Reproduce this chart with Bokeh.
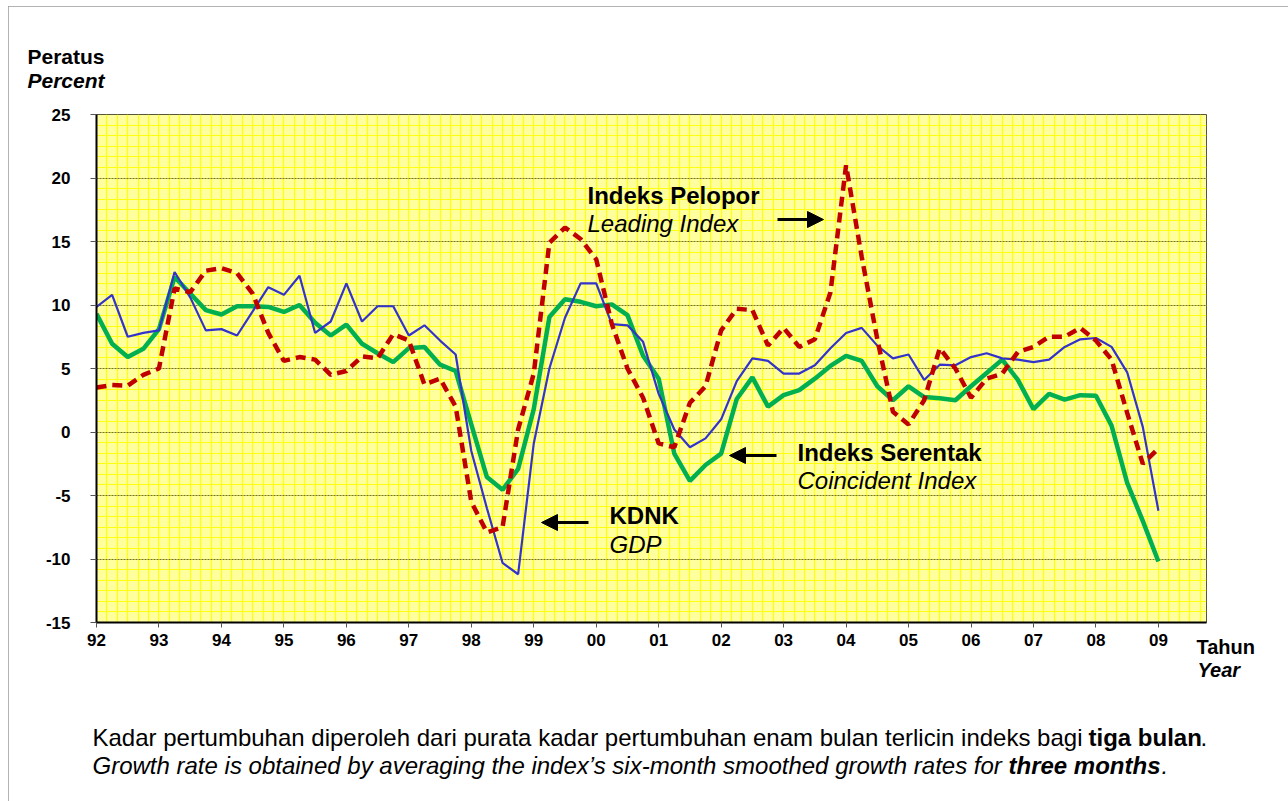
import numpy as np
from bokeh.plotting import figure
from bokeh.layouts import column, row
from bokeh.models import (Label, Arrow, NormalHead, FixedTicker, SingleIntervalTicker,
                          Range1d, ColumnDataSource)
from bokeh.embed import file_html
from bokeh.resources import INLINE

# ---------------- data (quarterly, 1992Q1 .. 2009Q1) ----------------
year_labels = ["92", "93", "94", "95", "96", "97", "98", "99", "00",
               "01", "02", "03", "04", "05", "06", "07", "08", "09"]

gdp = [9.85, 10.8, 7.5, 7.8, 8.0, 12.6, 10.6, 8.0, 8.1, 7.6, 9.5, 11.4,
       10.8, 12.3, 7.8, 8.7, 11.7, 8.7, 9.9, 9.9, 7.6, 8.4, 7.2, 6.1,
       -1.5, -6.0, -10.3, -11.2, -0.9, 5.0, 9.0, 11.7, 11.7, 8.5, 8.4, 7.1,
       3.0, 0.2, -1.2, -0.5, 1.0, 4.0, 5.8, 5.6, 4.6, 4.6, 5.25, 6.6,
       7.8, 8.2, 6.8, 5.8, 6.1, 4.1, 5.3, 5.25, 5.9, 6.2, 5.8, 5.7,
       5.5, 5.7, 6.7, 7.3, 7.4, 6.7, 4.7, 0.4, -6.2]

coincident = [9.3, 6.95, 5.9, 6.55, 8.1, 12.2, 10.9, 9.6, 9.25, 9.9, 9.9, 9.85,
              9.45, 10.0, 8.6, 7.6, 8.45, 6.95, 6.2, 5.5, 6.6, 6.7, 5.3, 4.8,
              0.6, -3.55, -4.55, -2.9, 1.8, 9.05, 10.45, 10.25, 9.9, 10.05, 9.2, 6.0,
              4.2, -1.7, -3.85, -2.6, -1.7, 2.6, 4.3, 2.0, 2.9, 3.3, 4.2, 5.2,
              6.0, 5.6, 3.6, 2.5, 3.6, 2.75, 2.65, 2.5, 3.6, 4.65, 5.7, 4.1,
              1.8, 3.0, 2.55, 2.9, 2.85, 0.5, -4.0, -7.0, -10.2]

leading = [3.5, 3.7, 3.65, 4.5, 5.0, 11.3, 11.0, 12.7, 12.9, 12.5, 10.9, 7.8,
           5.6, 5.9, 5.7, 4.5, 4.8, 5.95, 5.8, 7.7, 7.2, 3.75, 4.2, 2.0,
           -5.5, -7.9, -7.5, 0.2, 4.6, 14.9, 16.1, 15.2, 13.6, 8.5, 5.0, 2.7,
           -0.9, -1.2, 2.3, 3.6, 8.0, 9.7, 9.6, 6.8, 8.2, 6.7, 7.3, 11.0,
           21.0, 13.8, 7.3, 1.6, 0.6, 2.5, 6.6, 5.0, 2.7, 4.2, 4.6, 6.3,
           6.7, 7.5, 7.5, 8.2, 7.2, 5.7, 1.5, -2.5, -1.3]

first_year = 1992
quarter_x = [first_year + i / 4 for i in range(len(gdp))]
year_ticks = [first_year + k for k in range(len(year_labels))]

src = ColumnDataSource(dict(x=quarter_x, gdp=gdp, coin=coincident, lead=leading))

# ---------------- main figure ----------------
OX, OY = 8, 6          # page offset of the figure
W, H = 1280, 795
FONT = "Liberation Sans"

p = figure(width=W, height=H, output_backend="svg", toolbar_location=None,
           x_range=Range1d(1992, 2009.77), y_range=Range1d(-15, 25),
           min_border_left=88, min_border_right=82, min_border_top=108,
           min_border_bottom=179)

p.background_fill_color = "#FFFF9E"
p.border_fill_color = "white"
p.outline_line_color = "#55553a"
p.outline_line_width = 1

xt = FixedTicker(ticks=year_ticks, minor_ticks=list(np.arange(1992, 2009.8, 1 / 6)))
yt = SingleIntervalTicker(interval=5, num_minor_ticks=6)
p.xaxis.ticker = xt
p.yaxis.ticker = yt
p.xgrid.ticker = xt
p.ygrid.ticker = yt

p.xgrid.grid_line_color = None
p.xgrid.minor_grid_line_color = "#FFFF10"
p.xgrid.minor_grid_line_width = 1.2
p.ygrid.grid_line_color = "#6e6e55"
p.ygrid.grid_line_dash = "2 1"
p.ygrid.grid_line_width = 1
p.ygrid.minor_grid_line_color = "#FFFF10"
p.ygrid.minor_grid_line_width = 1.2

p.xaxis.major_label_overrides = {t: lab for t, lab in zip(year_ticks, year_labels)}
p.yaxis.major_label_overrides = {v: str(v) for v in range(-15, 30, 5)}
for ax in (p.xaxis, p.yaxis):
    ax.axis_line_color = "black"
    ax.axis_line_width = 2
    ax.minor_tick_line_color = None
    ax.major_tick_in = 0
    ax.major_tick_line_color = "#555555"
    ax.major_label_text_font = FONT
    ax.major_label_text_font_style = "bold"
    ax.major_label_text_font_size = "17px"
    ax.major_label_text_color = "black"
p.xaxis.major_tick_out = 5
p.xaxis.major_label_standoff = 6
p.yaxis.major_tick_out = 6
p.yaxis.major_label_standoff = 20

p.line("x", "coin", source=src, line_color="#00B050", line_width=4.5)
p.line("x", "gdp", source=src, line_color="#3333CC", line_width=2.2)
p.line("x", "lead", source=src, line_color="#C00000", line_width=4.5,
       line_dash="10 6")

FRAME_L, FRAME_B = 96, 622   # page pixel position of the frame's left/bottom


def add_in(txt, X, Y, size, style):
    p.add_layout(Label(x=X - FRAME_L, y=FRAME_B - Y, x_units="screen", y_units="screen",
                       text=txt, text_font=FONT, text_font_size=size,
                       text_font_style=style, text_color="black",
                       text_baseline="middle", text_align="left"))


add_in("Indeks Pelopor", 587, 195, "24px", "bold")
add_in("Leading Index", 587, 223, "24px", "italic")
add_in("Indeks Serentak", 797, 452, "24px", "bold")
add_in("Coincident Index", 797, 480, "24px", "italic")
add_in("KDNK", 609, 515, "24px", "bold")
add_in("GDP", 609, 544, "24px", "italic")


def add_arrow(X0, Y0, X1, Y1):
    p.add_layout(Arrow(end=NormalHead(size=16, fill_color="black", line_color="black"),
                       x_start=X0 - FRAME_L, y_start=FRAME_B - Y0,
                       x_end=X1 - FRAME_L, y_end=FRAME_B - Y1,
                       start_units="screen", end_units="screen",
                       line_color="black", line_width=3))


add_arrow(777, 219, 823, 219)
add_arrow(776, 455, 729, 455)
add_arrow(588, 522, 541, 522)

# ---------------- transparent overlay for texts outside the plot area ----------------
ov = figure(width=W, height=H, output_backend="svg", toolbar_location=None,
            x_range=Range1d(0, 1), y_range=Range1d(0, 1),
            x_axis_type=None, y_axis_type=None,
            min_border_left=0, min_border_right=0, min_border_top=0, min_border_bottom=0)
ov.background_fill_color = None
ov.border_fill_color = None
ov.outline_line_color = None
ov.xgrid.grid_line_color = None
ov.ygrid.grid_line_color = None


def add_out(txt, X, Y, size, style):
    ov.add_layout(Label(x=X - OX, y=H - (Y - OY), x_units="screen", y_units="screen",
                        text=txt, text_font=FONT, text_font_size=size,
                        text_font_style=style, text_color="black",
                        text_baseline="middle", text_align="left"))


add_out("Peratus", 27, 56, "21px", "bold")
add_out("Percent", 27, 80, "21px", "bold italic")
add_out("Tahun", 1196, 646, "20px", "bold")
add_out("Year", 1197, 669, "20px", "bold italic")
add_out("Kadar pertumbuhan diperoleh dari purata kadar pertumbuhan enam bulan terlicin indeks bagi",
        92, 737, "24px", "normal")
add_out("tiga bulan", 1088, 737, "24px", "bold")
add_out(".", 1200, 737, "24px", "normal")
add_out("Growth rate is obtained by averaging the index\u2019s six-month smoothed growth rates for",
        92, 765, "24px", "italic")
add_out("three months", 1008, 765, "24px", "bold italic")
add_out(".", 1161, 765, "24px", "italic")

wrap = row(ov)
wrap.styles = {"margin-top": f"-{H}px", "pointer-events": "none"}

layout = column(p, wrap, spacing=0)
layout.styles = {"margin-left": f"{OX}px", "margin-top": f"{OY}px",
                 "outline": "1px solid #9a9a9a", "outline-offset": "-1px"}

open("out.html", "w").write(file_html(layout, INLINE))
